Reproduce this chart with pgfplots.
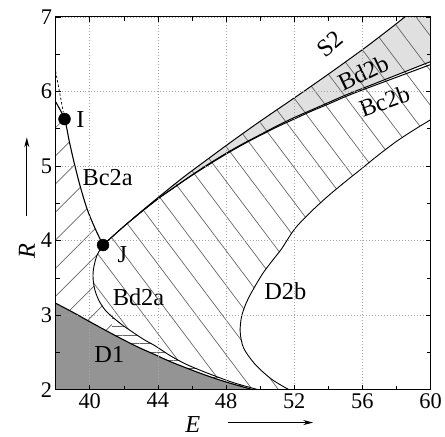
\documentclass[border=0pt]{standalone}
\usepackage{fontspec}
\setmainfont{Liberation Serif}
\usepackage{pgfplots}
\pgfplotsset{compat=1.18}
\usetikzlibrary{patterns.meta,arrows.meta}
\begin{document}
\begin{tikzpicture}
\begin{axis}[
  scale only axis, width=377pt, height=375pt,
  xmin=38, xmax=60, ymin=2, ymax=7,
  xtick={40,44,48,52,56,60}, minor xtick={38,42,46,50,54,58},
  ytick={2,3,4,5,6,7}, minor ytick={2.5,3.5,4.5,5.5,6.5},
  grid=major,
  major grid style={black!35, line width=0.7pt, dash pattern=on 0.8pt off 2.2pt},
  tick align=inside, major tick length=5pt, minor tick length=4pt,
  every tick/.style={black, line width=0.5pt},
  axis line style={line width=1pt},
  /pgf/number format/assume math mode=true,
  tick label style={font=\fontsize{22.5}{26}\selectfont},
  clip=false, axis on top,
]
% D1 region
\addplot[draw=none, fill=black!42] coordinates {
(38,2) (38,3.16) (39.0,3.04) (39.94,2.92) (40.9,2.80) (41.89,2.68) (42.85,2.57) (43.83,2.47)
(44.7,2.38) (45.58,2.30) (46.5,2.22) (47.5,2.14) (48.5,2.07) (49.6,2.0)};
% grey band between S2 and Bd2b
\addplot[draw=none, fill=black!12] coordinates {
(42.5,4.29) (44,4.575) (45.5,4.85) (47,5.105) (48.34,5.33) (50,5.60) (52.24,5.95) (54.18,6.26)
(56.12,6.58) (57.5,6.82) (58.5,7.0)
(60,7.0) (60,6.40) (59,6.31) (58,6.22) (57,6.13) (56,6.04) (55,5.95) (54,5.85) (53,5.75) (52,5.65)
(51,5.54) (50,5.42) (49,5.30) (48,5.17) (47,5.03) (46,4.88) (45,4.72) (44,4.56) (43,4.38)};
% left region, NE hatch
\addplot[draw=none, pattern={Lines[angle=45,distance=20pt,line width=0.7pt]}, pattern color=black!60] coordinates {
(38,3.16) (38,5.86) (38.52,5.63) (38.8,5.33) (39.1,5.03) (39.45,4.72) (39.85,4.42) (40.3,4.17) (40.78,3.94)
(40.42,3.80) (40.22,3.62) (40.20,3.48) (40.30,3.34) (40.53,3.20) (40.9,3.07) (41.31,2.98) (41.31,2.74)
(40.9,2.80) (39.94,2.92) (39.0,3.04)};
% thin strip, horizontal hatch
\addplot[draw=none, pattern={Lines[angle=0,distance=8.5pt,line width=0.6pt]}, pattern color=black!60] coordinates {
(41.31,2.98) (41.9,2.87) (42.47,2.78) (43.2,2.67) (43.83,2.59) (44.7,2.46) (45.58,2.35) (46.5,2.26)
(47.4,2.18) (48.5,2.09) (49.6,2.0) (48.5,2.07) (47.5,2.14) (46.5,2.22) (45.58,2.30) (44.7,2.38)
(43.83,2.47) (42.85,2.57) (41.89,2.68) (41.31,2.74)};
% right region, NW hatch
\addplot[draw=none, pattern={Lines[angle=-53,distance=21pt,line width=0.7pt]}, pattern color=black!60] coordinates {
(40.78,3.94) (42,4.19) (42.5,4.29) (44,4.575) (45.5,4.85) (47,5.105) (48.34,5.33) (50,5.60) (52.24,5.95)
(54.18,6.26) (56.12,6.58) (57.5,6.82) (58.5,7.0)
(60,7.0) (60,5.62) (59,5.48) (58.0,5.33) (56.9,5.14) (55.93,4.96) (55.0,4.79) (54.0,4.60)
(53.0,4.39) (52.04,4.16) (51.26,3.89) (50.68,3.72) (50.10,3.54) (49.32,3.23) (48.93,3.00) (48.83,2.78)
(49.03,2.56) (49.71,2.34) (50.68,2.14) (51.7,2.0) (49.9,2.0) (48.5,2.09) (47.4,2.18) (46.5,2.26)
(45.58,2.35) (44.7,2.46) (43.83,2.59) (43.2,2.67) (42.47,2.78) (41.9,2.87) (41.31,2.98) (40.9,3.07)
(40.53,3.20) (40.30,3.34) (40.20,3.48) (40.22,3.62) (40.42,3.80)};
% curves
\addplot[black, line width=1.1pt, smooth] coordinates {
(38,3.16) (39.0,3.04) (39.94,2.92) (40.9,2.80) (41.89,2.68) (42.85,2.57) (43.83,2.47)
(44.7,2.38) (45.58,2.30) (46.5,2.22) (47.5,2.14) (48.5,2.07) (49.6,2.0)};
\addplot[black, line width=0.9pt, smooth] coordinates {
(40.78,3.94) (40.42,3.80) (40.22,3.62) (40.20,3.48) (40.30,3.34) (40.53,3.20) (40.9,3.07) (41.31,2.98)
(41.9,2.87) (42.47,2.78) (43.2,2.67) (43.83,2.59) (44.7,2.46) (45.58,2.35) (46.5,2.26) (47.4,2.18)
(48.5,2.09) (49.9,2.0)};
\addplot[black, line width=0.9pt, smooth] coordinates {
(51.7,2.0) (50.68,2.14) (49.71,2.34) (49.03,2.56) (48.83,2.78) (48.93,3.00) (49.32,3.23) (50.10,3.54)
(50.68,3.72) (51.26,3.89) (52.04,4.16) (53.0,4.39) (54.0,4.60) (55.0,4.79) (55.93,4.96) (56.9,5.14)
(58.0,5.33) (59.0,5.48) (60,5.62)};
\addplot[black, line width=1.1pt, smooth] coordinates {
(38.0,5.86) (38.52,5.63) (38.8,5.33) (39.1,5.03) (39.45,4.72) (39.85,4.42) (40.3,4.17) (40.78,3.94)};
\addplot[black, line width=0.7pt, dash pattern=on 2.5pt off 2pt] coordinates {(38.0,6.27) (38.45,5.72)};
\addplot[black, line width=1.0pt, smooth] coordinates {
(42.5,4.29) (44,4.575) (45.5,4.85) (47,5.105) (48.34,5.33) (50,5.60) (52.24,5.95) (54.18,6.26)
(56.12,6.58) (57.5,6.82) (58.5,7.0)};
\addplot[black, line width=1.0pt, smooth] coordinates {
(40.78,3.94) (42,4.19) (43,4.38) (44,4.56) (45,4.72) (46,4.88) (47,5.03) (48,5.17) (49,5.30) (50,5.42)
(51,5.54) (52,5.65) (53,5.75) (54,5.85) (55,5.95) (56,6.04) (57,6.13) (58,6.22) (59,6.31) (60,6.40)};
\addplot[black, line width=1.0pt, smooth] coordinates {
(40.78,3.94) (42,4.19) (43,4.38) (44,4.56) (45,4.72) (46,4.875) (47,5.02) (48,5.16) (49,5.29) (50,5.41)
(51,5.525) (52,5.63) (53,5.735) (54,5.83) (55,5.93) (56,6.02) (57,6.105) (58,6.19) (59,6.275) (60,6.36)};
% points I and J
\addplot[only marks, mark=*, mark size=6pt, black] coordinates {(38.52,5.63) (40.78,3.94)};
% labels
\begin{scope}[every node/.style={font=\fontsize{24.5}{28}\selectfont, inner sep=0pt}]
\node at (axis cs:39.45,5.63) {I};
\node at (axis cs:41.91,3.81) {J};
\node at (axis cs:41.05,4.85) {Bc2a};
\node at (axis cs:42.86,3.24) {Bd2a};
\node at (axis cs:41.15,2.47) {D1};
\node at (axis cs:51.48,3.32) {D2b};
\node[rotate=40] at (axis cs:54.1,6.64) {S2};
\node[rotate=26] at (axis cs:56.05,6.25) {Bd2b};
\node[rotate=20] at (axis cs:57.3,5.87) {Bc2b};
\node[rotate=90, font=\fontsize{24.5}{28}\selectfont\itshape] at (rel axis cs:-0.077,0.371) {R};
\node[font=\fontsize{24.5}{28}\selectfont\itshape] at (rel axis cs:0.366,-0.092) {E};
\end{scope}
\draw[-{Stealth[length=10pt,width=5pt]}, line width=0.8pt] (rel axis cs:-0.077,0.467) -- (rel axis cs:-0.077,0.677);
\draw[-{Stealth[length=10pt,width=5pt]}, line width=0.8pt] (rel axis cs:0.46,-0.088) -- (rel axis cs:0.687,-0.088);
\path (rel axis cs:-0.1485,-0.125) rectangle (rel axis cs:1.0318,1.0453);
\end{axis}
\end{tikzpicture}
\end{document}
